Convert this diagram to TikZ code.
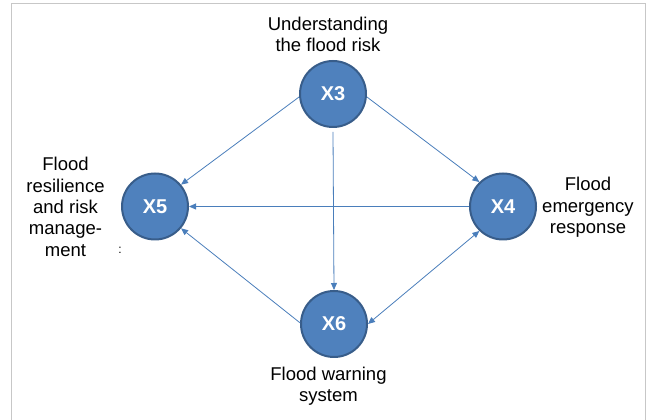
\documentclass[tikz,border=0pt]{standalone}
\usepackage{fontspec}
\setmainfont{Liberation Sans}
\usetikzlibrary{arrows.meta}
\definecolor{factorblue}{HTML}{4F81BD}
\definecolor{factoredge}{HTML}{385D8A}
\definecolor{linkblue}{HTML}{4A7EBB}

\begin{document}
\begin{tikzpicture}[x=1pt, y=1pt,
    factor/.style={circle, draw=factoredge, line width=2pt, fill=factorblue, minimum size=66pt, inner sep=0pt, text=white, font=\fontsize{20}{24}\selectfont\bfseries},
    caption/.style={align=center, anchor=north, inner sep=0pt, font=\fontsize{18.5}{21.3}\selectfont},
    arrow/.style={-{Triangle[length=7pt, width=6pt]}, draw=linkblue, line width=0.8pt},
    twoway/.style={{Triangle[length=7pt, width=6pt]}-{Triangle[length=7pt, width=6pt]}, draw=linkblue, line width=0.8pt}
]
\useasboundingbox (0,0) rectangle (648,420);
\draw[black!22, line width=1pt] (11,-10) rectangle (645,416);

% Factors
\node[factor] (x3) at (333,326) {X3};
\node[factor] (x5) at (155,213.5) {X5};
\node[factor] (x4) at (503,213.5) {X4};
\node[factor] (x6) at (334,96) {X6};

% Captions
\node[caption] (cap3) at (328,403.3) {Understanding\\the flood risk};
\node[caption] (cap5) at (65.5,262.7) {Flood\\resilience\\and risk\\manage-\\ment};
\node[caption] (cap4) at (588,242.7) {Flood\\emergency\\response};
\node[caption] (cap6) at (328.5,53.3) {Flood warning\\system};
\node[font=\fontsize{12}{14}\selectfont] (colon) at (120,170) {:};

% Links
\draw[arrow] (x3.185) -- (x5.40);
\draw[arrow] (x3.355) -- (x4.134);
\draw[arrow] ([yshift=-4pt]x3.south) -- (x6.north);
\draw[arrow] (x4.west) -- (x5.east);
\draw[arrow] (x6.178) -- (x5.-40);
\draw[twoway] (x6.0) -- (x4.226);
\end{tikzpicture}
\end{document}
